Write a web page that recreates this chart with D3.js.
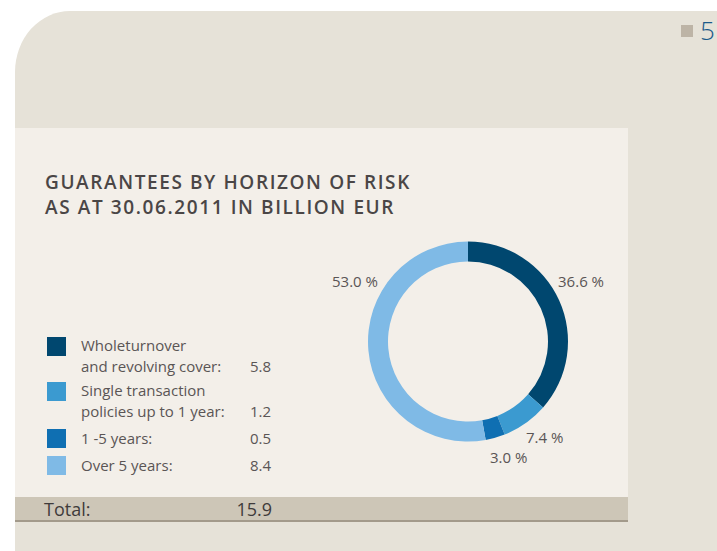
<!DOCTYPE html>
<html>
<head>
<meta charset="utf-8">
<script src="https://cdn.jsdelivr.net/npm/d3@7"></script>
<style>
  body { margin: 0; background: #fff; }
  svg { display: block; font-family: "Open Sans", sans-serif; }
</style>
</head>
<body>
<div id="chart"></div>
<script>
// dữ liệu
var categories = ["Wholeturnover|and revolving cover:", "Single transaction|policies up to 1 year:", "1 -5 years:", "Over 5 years:"];
var values = [5.8, 1.2, 0.5, 8.4];
var shares = ["36.6 %", "7.4 %", "3.0 %", "53.0 %"];
var colors = ["#00476f", "#3b9ad0", "#0f6fb2", "#7fbae6"];
var titleLines = ["GUARANTEES BY HORIZON OF RISK", "AS AT 30.06.2011 IN BILLION EUR"];
var totalLabel = "Total:";
var totalValue = "15.9";

var W = 717, H = 551;
var svg = d3.select("#chart").append("svg").attr("width", W).attr("height", H);

// nền be với góc trên trái bo tròn
svg.append("path")
   .attr("d", "M15,551 L15,72 A55,61 0 0 1 70,11 L717,11 L717,551 Z")
   .attr("fill", "#e6e2d8");

// số trang
svg.append("rect").attr("x", 681).attr("y", 25).attr("width", 12).attr("height", 12).attr("fill", "#bdb4a6");
svg.append("text").attr("x", 700).attr("y", 40).attr("font-size", 26).attr("fill", "#1b5a8a")
   .attr("font-weight", 300).text("5");

// khung sáng
svg.append("rect").attr("x", 15).attr("y", 128).attr("width", 613).attr("height", 393).attr("fill", "#f3efe9");

// tiêu đề
svg.selectAll(".title").data(titleLines).enter().append("text")
   .attr("class", "title")
   .attr("x", 45).attr("y", (d, i) => 189 + i * 25)
   .attr("font-size", 19).attr("font-weight", 600).attr("letter-spacing", 1.6)
   .attr("fill", "#4a4646")
   .text(d => d);

// biểu đồ vòng
var cx = 468, cy = 341.5, rOuter = 100, rInner = 80;
var pie = d3.pie().sort(null).value(d => d);
var arcs = pie(values);
var arc = d3.arc().innerRadius(rInner).outerRadius(rOuter);
var g = svg.append("g").attr("transform", `translate(${cx},${cy})`);

g.selectAll("path").data(arcs).enter().append("path")
 .attr("d", arc)
 .attr("fill", (d, i) => colors[i]);

// nhãn phần trăm
function labelAngle(d) {
  var mid = (d.startAngle + d.endAngle) / 2;
  if (d.endAngle - d.startAngle > Math.PI / 2) return mid < Math.PI ? 62 * Math.PI / 180 : -62 * Math.PI / 180;
  return mid - 0.06;
}
function labelRadius(d) {
  return (d.endAngle - d.startAngle > Math.PI / 2) ? 128 : 123;
}
g.selectAll(".pct").data(arcs).enter().append("text")
 .attr("class", "pct")
 .attr("x", d => labelRadius(d) * Math.sin(labelAngle(d)))
 .attr("y", d => -labelRadius(d) * Math.cos(labelAngle(d)))
 .attr("dy", "0.35em")
 .attr("text-anchor", "middle")
 .attr("font-size", 15)
 .attr("fill", "#5a5555")
 .text((d, i) => shares[i]);

// chú giải
var legendTop = [337, 382, 429, 456];
var legend = svg.selectAll(".leg").data(categories).enter().append("g").attr("class", "leg");
legend.append("rect")
      .attr("x", 47).attr("y", (d, i) => legendTop[i])
      .attr("width", 19).attr("height", 19)
      .attr("fill", (d, i) => colors[i]);
legend.each(function(d, i) {
  var lines = d.split("|");
  var sel = d3.select(this);
  var base = legendTop[i] + 15 - (lines.length > 1 ? 1 : 0);
  lines.forEach(function(line, j) {
    sel.append("text")
       .attr("x", 81).attr("y", base + j * 20.6)
       .attr("font-size", 15).attr("fill", "#5a5555")
       .text(line);
  });
  sel.append("text")
     .attr("x", 271).attr("y", base + (lines.length - 1) * 20.6)
     .attr("text-anchor", "end")
     .attr("font-size", 15).attr("fill", "#5a5555")
     .text(values[i].toFixed(1));
});

// dòng tổng
svg.append("rect").attr("x", 15).attr("y", 497).attr("width", 613).attr("height", 24).attr("fill", "#cdc6b7");
svg.append("rect").attr("x", 15).attr("y", 520).attr("width", 613).attr("height", 2).attr("fill", "#a39a8b");
svg.append("text").attr("x", 44).attr("y", 516).attr("font-size", 18).attr("fill", "#3f3b3b").text(totalLabel);
svg.append("text").attr("x", 272).attr("y", 516).attr("text-anchor", "end").attr("font-size", 18).attr("fill", "#3f3b3b").text(totalValue);
</script>
</body>
</html>
